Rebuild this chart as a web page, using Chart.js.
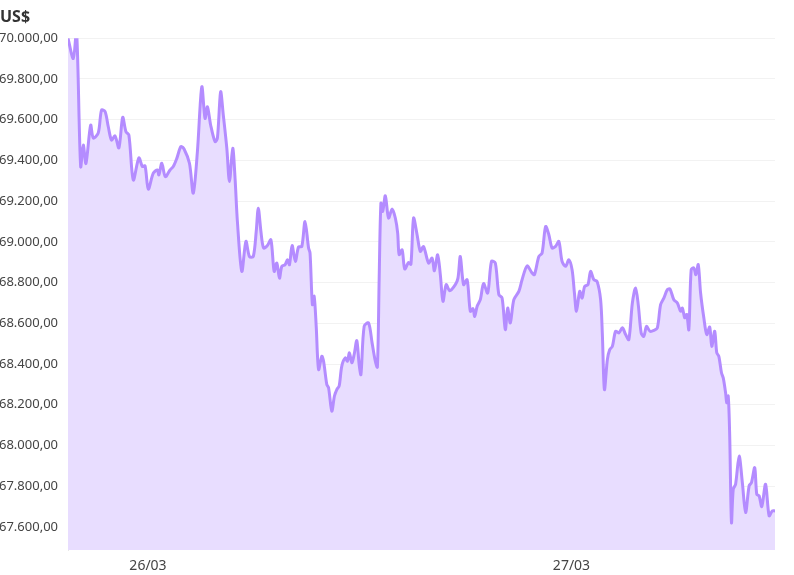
<!DOCTYPE html>
<html lang="pt-BR">
<head>
  <meta charset="UTF-8">
  <title>US$</title>
  <script src="https://cdn.jsdelivr.net/npm/chart.js"></script>
  <style>
    html, body { margin: 0; padding: 0; background: #fff; }
    #wrap { position: relative; width: 794px; height: 575px; }
  </style>
</head>
<body>
  <div id="wrap"><canvas id="grafico"></canvas></div>

  <script>
    // minutos a partir de 26/03 00:00
    const minutos = [
      -272, -254, -243, -229, -220, -211, -195, -186, -169, -158, -146, -135, -124, -112, -99, -86, -75, -65, -50, -31, -19, -10,
      1, 18, 32, 37, 47, 59, 75, 86, 98, 112, 123, 141, 154, 168, 183, 194, 202, 213, 228, 236, 247, 256, 268, 277, 288, 296,
      304, 319, 333, 345, 358, 368, 375, 384, 393, 406, 418, 429, 438, 447, 455, 466, 474, 481, 490, 501, 512, 523, 534, 546,
      551, 559, 565, 572, 580, 591, 597, 608, 614, 625, 634, 642, 650, 659, 671, 678, 685, 693, 701, 710, 718, 724, 735, 750,
      762, 773, 780, 786, 792, 798, 807, 818, 830, 841, 849, 854, 864, 873, 886, 894, 903, 915, 926, 937, 954, 966, 974, 985,
      994, 1003, 1014, 1026, 1045, 1054, 1062, 1073, 1085, 1096, 1105, 1111, 1119, 1130, 1141, 1155, 1168, 1181, 1193, 1204,
      1215, 1223, 1232, 1244, 1261, 1272, 1289, 1306, 1314, 1329, 1340, 1352, 1363, 1374, 1386, 1397, 1408, 1420, 1431, 1442,
      1450, 1457, 1468, 1476, 1485, 1496, 1505, 1516, 1527, 1539, 1545, 1552, 1562, 1570, 1579, 1590, 1601, 1613, 1624, 1635,
      1647, 1658, 1667, 1677, 1686, 1695, 1707, 1720, 1732, 1743, 1754, 1766, 1775, 1788, 1800, 1811, 1817, 1825, 1832, 1839,
      1847, 1856, 1863, 1871, 1879, 1890, 1900, 1910, 1917, 1927, 1934, 1941, 1950, 1956, 1964, 1968, 1973, 1978, 1984, 1990,
      1998, 2010, 2021, 2032, 2044, 2052, 2063, 2070, 2078, 2087, 2100, 2112, 2123, 2132
    ];

    const precos = [
      70000, 69900, 70040, 69370, 69475, 69385, 69573, 69510, 69535, 69647, 69640, 69565, 69500, 69520, 69461, 69611, 69541, 69525, 69304, 69412, 69370, 69373,
      69259, 69337, 69353, 69329, 69386, 69320, 69353, 69370, 69410, 69468, 69455, 69386, 69239, 69443, 69761, 69606, 69663, 69574, 69492, 69509, 69737, 69623, 69460, 69296, 69460, 69313,
      69100, 68855, 69002, 68928, 68928, 69051, 69165, 69051, 68970, 68982, 69010, 68855, 68896, 68822, 68880, 68888, 68912, 68888, 68982, 68904, 68975, 68977, 69100, 68970,
      68945, 68692, 68733, 68585, 68373, 68438, 68414, 68300, 68284, 68169, 68243, 68275, 68292, 68390, 68430, 68414, 68455, 68406, 68447, 68515, 68398, 68349, 68585, 68602,
      68504, 68414, 68385, 68814, 69190, 69149, 69226, 69117, 69161, 69117, 69043, 68937, 68961, 68867, 68899, 68890, 69117, 69035, 68953, 68977, 68896, 68920, 68858, 68937,
      68839, 68708, 68790, 68760, 68790, 68822, 68928, 68790, 68814, 68659, 68672, 68634, 68683, 68716, 68795, 68749, 68904, 68896, 68741, 68724,
      68569, 68675, 68602, 68716, 68757, 68814, 68882, 68847, 68839, 68928, 68945, 69075, 69035, 68970, 68978, 69002, 68904, 68880, 68912, 68863,
      68749, 68659, 68757, 68724, 68782, 68790, 68855, 68814, 68806, 68716, 68545, 68275, 68422, 68471, 68487, 68561, 68553, 68578, 68545, 68520,
      68700, 68774, 68692, 68553, 68536, 68585, 68561, 68565, 68578, 68692, 68724, 68765, 68768, 68716, 68700, 68659, 68675, 68627, 68643, 68569,
      68863, 68872, 68839, 68888, 68749, 68627, 68545, 68582, 68487, 68561, 68455, 68438, 68357, 68332, 68259, 68210, 68243, 68047, 67622, 67785,
      67810, 67948, 67818, 67671, 67802, 67818, 67891, 67761, 67753, 67700, 67810, 67655, 67679, 67679
    ];

    // rótulos do eixo x (meia-noite de cada dia)
    const rotulosX = { 0: '26/03', 1440: '27/03' };

    function formatar(v) {
      const [inteiro, dec] = v.toFixed(2).split('.');
      return inteiro.replace(/\B(?=(\d{3})+(?!\d))/g, '.') + ',' + dec;
    }

    const pontos = minutos.map((m, i) => ({ x: m, y: precos[i] }));
    const fonte = "'Noto Sans', sans-serif";

    const ctx = document.getElementById('grafico').getContext('2d');
    new Chart(ctx, {
      type: 'line',
      data: {
        datasets: [{
          label: 'US$',
          data: pontos,
          borderColor: '#b48cff',
          backgroundColor: '#e8ddff',
          borderWidth: 3,
          pointRadius: 0,
          tension: 0.3,
          fill: 'start'
        }]
      },
      options: {
        responsive: true,
        maintainAspectRatio: false,
        animation: false,
        layout: { padding: { left: 0, right: 19, top: 0, bottom: 0 } },
        plugins: {
          legend: { display: false },
          tooltip: { enabled: false },
          title: {
            display: true,
            text: 'US$',
            align: 'start',
            color: '#333',
            font: { family: fonte, size: 16, weight: 'bold' },
            padding: { top: 8, bottom: 11 }
          }
        },
        scales: {
          x: {
            type: 'linear',
            min: -272,
            max: 2132,
            grid: { display: false },
            border: { display: false },
            afterBuildTicks: scale => {
              scale.ticks = Object.keys(rotulosX).map(k => ({ value: Number(k) }));
            },
            afterFit: scale => { scale.height = 25; },
            ticks: {
              color: '#444',
              padding: 0,
              maxRotation: 0,
              font: { family: fonte, size: 14 },
              callback: v => rotulosX[v] || ''
            }
          },
          y: {
            min: 67487,
            max: 70000,
            grid: { color: '#f2f2f2', drawTicks: false },
            border: { color: '#e8e8e8' },
            afterFit: scale => { scale.width = 68; },
            ticks: {
              stepSize: 200,
              includeBounds: false,
              color: '#444',
              padding: 10,
              font: { family: fonte, size: 13 },
              callback: v => formatar(v)
            }
          }
        }
      }
    });
  </script>
</body>
</html>
